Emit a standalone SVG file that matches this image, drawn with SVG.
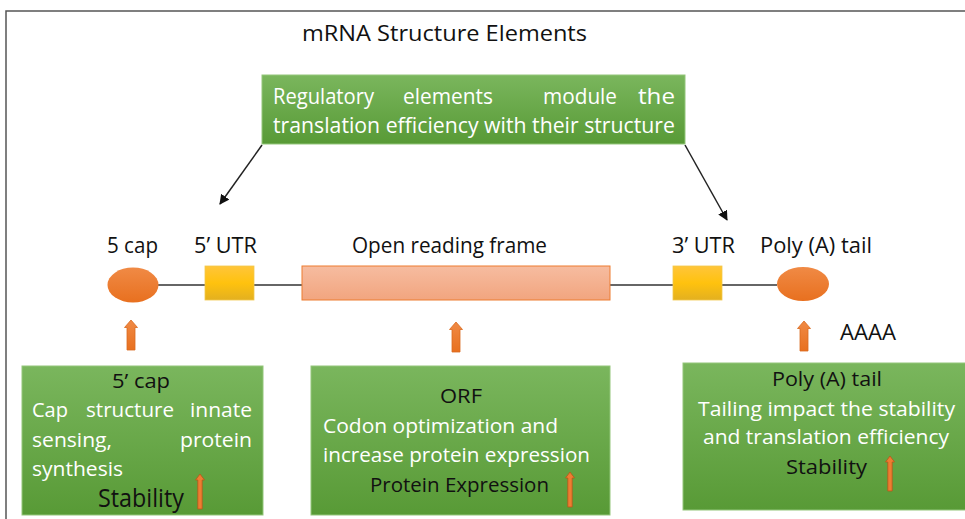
<svg xmlns="http://www.w3.org/2000/svg" xmlns:xlink="http://www.w3.org/1999/xlink" width="965" height="519" viewBox="0 0 965 519">
<defs>
<linearGradient id="gGreen" x1="0" y1="0" x2="0" y2="1"><stop offset="0" stop-color="#7ab65d"/><stop offset="1" stop-color="#589a36"/></linearGradient>
<linearGradient id="gOrange" x1="0" y1="0" x2="0" y2="1"><stop offset="0" stop-color="#f08a45"/><stop offset="1" stop-color="#e8701f"/></linearGradient>
<linearGradient id="gYellow" x1="0" y1="0" x2="0" y2="1"><stop offset="0" stop-color="#ffc53a"/><stop offset="0.5" stop-color="#ffc20e"/><stop offset="1" stop-color="#e3b020"/></linearGradient>
<linearGradient id="gSalmon" x1="0" y1="0" x2="0" y2="1"><stop offset="0" stop-color="#f6bca0"/><stop offset="1" stop-color="#f2a57f"/></linearGradient>
<marker id="ah" markerWidth="10" markerHeight="10" refX="9" refY="5" orient="auto" markerUnits="userSpaceOnUse"><path d="M0,0 L10,5 L0,10 Z" fill="#111"/></marker>
<path id="blockUp" d="M0,0 L6.5,7.5 L4,7.5 L4,30 L-4,30 L-4,7.5 L-6.5,7.5 Z"/>
<path id="thinUp" d="M0,0 L4.5,6 L2.2,6 L2.2,35 L-2.2,35 L-2.2,6 L-4.5,6 Z"/>
<style>
.t{font-family:"Open Sans","Liberation Sans",sans-serif;}
.blk{fill:#111;}
.wht{fill:#fff;}
.box{fill:url(#gGreen);stroke:#93c67a;stroke-width:1;}
.conn{stroke:#222;stroke-width:1.5;fill:none;}
.link{stroke:#333;stroke-width:1.3;fill:none;}
.ba{fill:url(#gOrange);stroke:#d96a1e;stroke-width:0.8;}
.ta{fill:#ed7d31;stroke:#b8561a;stroke-width:0.8;}
</style>
</defs>
<rect x="0" y="0" width="965" height="519" fill="#fff"/>
<path d="M6,519 L6,11 L965,11" fill="none" stroke="#555" stroke-width="1.5"/>

<g id="title"><text class="t blk" x="302" y="41" font-size="21" textLength="285" lengthAdjust="spacingAndGlyphs">mRNA Structure Elements</text></g>

<g id="connectors">
<line class="conn" x1="262" y1="145" x2="220" y2="204" marker-end="url(#ah)"/>
<line class="conn" x1="685" y1="145" x2="727" y2="220" marker-end="url(#ah)"/>
<line class="link" x1="158" y1="285" x2="205" y2="285"/>
<line class="link" x1="254" y1="285" x2="302" y2="285"/>
<line class="link" x1="610" y1="285" x2="673" y2="285"/>
<line class="link" x1="722" y1="285" x2="777" y2="285"/>
<use href="#blockUp" class="ba" transform="translate(131,320)"/>
<use href="#blockUp" class="ba" transform="translate(456,322)"/>
<use href="#blockUp" class="ba" transform="translate(804,321)"/>
</g>

<g id="regulatory">
<rect class="box" x="262" y="75" width="423" height="69"/>
<text class="t wht" font-size="21" y="104"><tspan x="273" textLength="101" lengthAdjust="spacingAndGlyphs">Regulatory</tspan><tspan x="403" textLength="90" lengthAdjust="spacingAndGlyphs">elements</tspan><tspan x="543" textLength="74" lengthAdjust="spacingAndGlyphs">module</tspan><tspan x="638" textLength="37" lengthAdjust="spacingAndGlyphs">the</tspan></text>
<text class="t wht" font-size="21" x="273" y="133" textLength="402" lengthAdjust="spacingAndGlyphs">translation efficiency with their structure</text>
</g>

<g id="cap5">
<text class="t blk" x="107" y="253" font-size="21" textLength="51" lengthAdjust="spacingAndGlyphs">5 cap</text>
<ellipse cx="133" cy="285" rx="25.5" ry="17.5" fill="url(#gOrange)"/>
</g>
<g id="utr5">
<text class="t blk" x="194" y="253" font-size="21" textLength="63" lengthAdjust="spacingAndGlyphs">5’ UTR</text>
<rect x="205" y="266" width="49" height="34" fill="url(#gYellow)" stroke="#f2c94c" stroke-width="0.8"/>
</g>
<g id="orf">
<text class="t blk" x="352" y="253" font-size="21" textLength="195" lengthAdjust="spacingAndGlyphs">Open reading frame</text>
<rect x="302" y="266" width="308" height="34" fill="url(#gSalmon)" stroke="#ed7d31" stroke-width="1"/>
</g>
<g id="utr3">
<text class="t blk" x="672" y="253" font-size="21" textLength="63" lengthAdjust="spacingAndGlyphs">3’ UTR</text>
<rect x="673" y="266" width="49" height="34" fill="url(#gYellow)" stroke="#f2c94c" stroke-width="0.8"/>
</g>
<g id="polyA">
<text class="t blk" x="760" y="253" font-size="21" textLength="112" lengthAdjust="spacingAndGlyphs">Poly (A) tail</text>
<ellipse cx="803" cy="284" rx="26" ry="17" fill="url(#gOrange)"/>
<text class="t blk" x="840" y="340" font-size="21" textLength="56" lengthAdjust="spacingAndGlyphs">AAAA</text>
</g>

<g id="box-cap">
<rect class="box" x="22" y="366" width="241" height="149"/>
<text class="t blk" x="112" y="388" font-size="20" textLength="58" lengthAdjust="spacingAndGlyphs">5’ cap</text>
<text class="t wht" font-size="20" y="417"><tspan x="32" textLength="36" lengthAdjust="spacingAndGlyphs">Cap</tspan><tspan x="86" textLength="88" lengthAdjust="spacingAndGlyphs">structure</tspan><tspan x="190" textLength="62" lengthAdjust="spacingAndGlyphs">innate</tspan></text>
<text class="t wht" font-size="20" y="447"><tspan x="32" textLength="80" lengthAdjust="spacingAndGlyphs">sensing,</tspan><tspan x="180" textLength="72" lengthAdjust="spacingAndGlyphs">protein</tspan></text>
<text class="t wht" font-size="20" x="32" y="476" textLength="91" lengthAdjust="spacingAndGlyphs">synthesis</text>
<text class="t blk" x="98" y="507" font-size="25" textLength="86" lengthAdjust="spacingAndGlyphs">Stability</text>
<use href="#thinUp" class="ta" transform="translate(200,474)"/>
</g>

<g id="box-orf">
<rect class="box" x="311" y="366" width="299" height="149"/>
<text class="t blk" x="440" y="403" font-size="20" textLength="42" lengthAdjust="spacingAndGlyphs">ORF</text>
<text class="t wht" font-size="20" x="323" y="433" textLength="235" lengthAdjust="spacingAndGlyphs">Codon optimization and</text>
<text class="t wht" font-size="20" x="323" y="462" textLength="267" lengthAdjust="spacingAndGlyphs">increase protein expression</text>
<text class="t blk" x="370" y="492" font-size="20" textLength="179" lengthAdjust="spacingAndGlyphs">Protein Expression</text>
<use href="#thinUp" class="ta" transform="translate(570,472)"/>
</g>

<g id="box-poly">
<rect class="box" x="683" y="363" width="290" height="147"/>
<text class="t blk" x="772" y="386" font-size="20" textLength="110" lengthAdjust="spacingAndGlyphs">Poly (A) tail</text>
<text class="t wht" font-size="20" x="698" y="416" textLength="257" lengthAdjust="spacingAndGlyphs">Tailing impact the stability</text>
<text class="t wht" font-size="20" x="703" y="444" textLength="246" lengthAdjust="spacingAndGlyphs">and translation efficiency</text>
<text class="t blk" x="786" y="474" font-size="20" textLength="81" lengthAdjust="spacingAndGlyphs">Stability</text>
<use href="#thinUp" class="ta" transform="translate(890,456)"/>
</g>
</svg>
